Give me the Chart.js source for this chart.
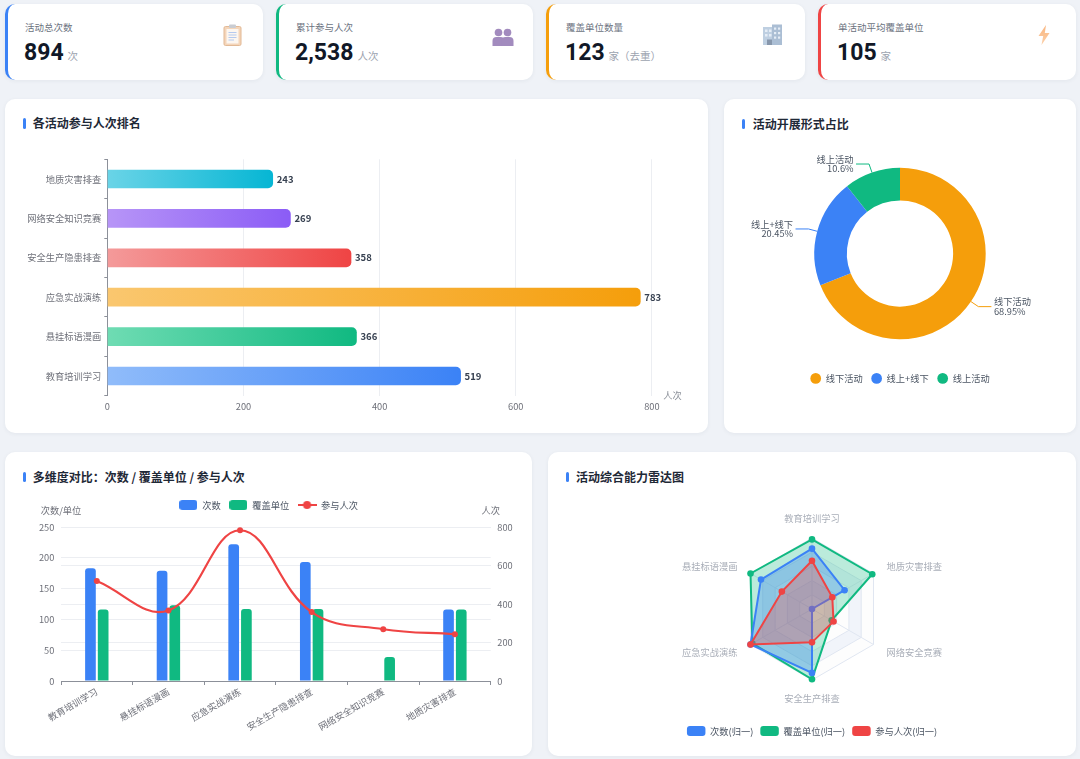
<!DOCTYPE html>
<html lang="zh-CN">
<head>
<meta charset="utf-8">
<title>活动数据看板</title>
<script src="https://cdn.jsdelivr.net/npm/chart.js@4.4.1/dist/chart.umd.min.js"></script>
<style>
html,body{margin:0;padding:0;}
body{width:1080px;height:759px;background:#eff2f7;position:relative;overflow:hidden;font-family:"Noto Sans CJK SC","Noto Sans",sans-serif;}
.card{position:absolute;background:#fff;border-radius:10px;box-shadow:0 1px 4px rgba(30,45,70,0.06);}
.kpi{position:absolute;background:#fff;border-radius:10px;border-left:3px solid #3b82f6;box-sizing:border-box;box-shadow:0 1px 4px rgba(30,45,70,0.06);}
.kt{position:absolute;left:17px;top:16.7px;font-size:9.5px;line-height:12px;color:#6b7280;white-space:nowrap;}
.kv{position:absolute;left:16px;top:37.2px;height:23px;line-height:23px;font-family:Roboto,"Noto Sans",sans-serif;font-size:23px;font-weight:700;color:#111827;white-space:nowrap;}
.kv .u{font-family:"Noto Sans CJK SC","Noto Sans",sans-serif;font-size:10.5px;font-weight:400;color:#9ca3af;margin-left:4px;line-height:10px;}
.ico{position:absolute;}
.ttl{position:absolute;font-size:12px;line-height:16px;font-weight:700;color:#1f2937;white-space:nowrap;}
.bar{position:absolute;width:3px;height:10.5px;background:#3b82f6;border-radius:2px;}
.box{position:absolute;}
</style>
</head>
<body>

<div class="kpi" id="k0" style="left:5px;top:4px;width:258px;height:76px;border-left-color:#3b82f6">
  <div class="kt"></div><div class="kv"><span class="n"></span><span class="u"></span></div>
  <svg class="ico" style="left:214.7px;top:20px;opacity:.75" width="19" height="22" viewBox="0 0 19 22">
    <rect x="1" y="2.5" width="17" height="19" rx="1.5" fill="#f1c7a2" stroke="#d9a273" stroke-width="1"/>
    <rect x="3.5" y="5" width="12" height="14.5" fill="#fbf4ec"/>
    <rect x="6" y="0.5" width="7" height="3.6" rx="1" fill="#b7bbc4"/>
    <line x1="5.5" y1="8.5" x2="13.5" y2="8.5" stroke="#9cb8ea" stroke-width="1"/>
    <line x1="5.5" y1="11" x2="13.5" y2="11" stroke="#9cb8ea" stroke-width="1"/>
    <line x1="5.5" y1="13.5" x2="13.5" y2="13.5" stroke="#9cb8ea" stroke-width="1"/>
    <line x1="5.5" y1="16" x2="11" y2="16" stroke="#9cb8ea" stroke-width="1"/>
  </svg>
</div>
<div class="kpi" id="k1" style="left:276px;top:4px;width:257px;height:76px;border-left-color:#10b981">
  <div class="kt"></div><div class="kv"><span class="n"></span><span class="u"></span></div>
  <svg class="ico" style="left:212.7px;top:24px;opacity:.8" width="22" height="18" viewBox="0 0 22 18">
    <circle cx="6.5" cy="4.5" r="3.8" fill="#8b6faf"/>
    <circle cx="15.5" cy="4.5" r="3.8" fill="#8b6faf"/>
    <path d="M0.5 18 V13 Q0.5 9 4.5 9 H8.5 Q12.5 9 12.5 13 V18 Z" fill="#8b6faf"/>
    <path d="M9.5 18 V13 Q9.5 9 13.5 9 H17.5 Q21.5 9 21.5 13 V18 Z" fill="#8b6faf"/>
  </svg>
</div>
<div class="kpi" id="k2" style="left:546px;top:4px;width:259px;height:76px;border-left-color:#f59e0b">
  <div class="kt"></div><div class="kv"><span class="n"></span><span class="u"></span></div>
  <svg class="ico" style="left:213px;top:20px;opacity:.75" width="21" height="21" viewBox="0 0 21 21">
    <rect x="1" y="3" width="13" height="18" fill="#a9bfd8"/>
    <rect x="10" y="0.5" width="10" height="20.5" fill="#8fa9c6"/>
    <rect x="3" y="5.5" width="2.5" height="2.5" fill="#dde8f4"/><rect x="7" y="5.5" width="2.5" height="2.5" fill="#dde8f4"/>
    <rect x="3" y="10" width="2.5" height="2.5" fill="#dde8f4"/><rect x="7" y="10" width="2.5" height="2.5" fill="#dde8f4"/>
    <rect x="12" y="3.5" width="2.2" height="2.2" fill="#dde8f4"/><rect x="16" y="3.5" width="2.2" height="2.2" fill="#dde8f4"/>
    <rect x="12" y="8" width="2.2" height="2.2" fill="#dde8f4"/><rect x="16" y="8" width="2.2" height="2.2" fill="#dde8f4"/>
    <rect x="12" y="12.5" width="2.2" height="2.2" fill="#dde8f4"/><rect x="16" y="12.5" width="2.2" height="2.2" fill="#dde8f4"/>
    <rect x="5" y="15.5" width="5" height="5.5" fill="#5f7591"/>
  </svg>
</div>
<div class="kpi" id="k3" style="left:818px;top:4px;width:258px;height:76px;border-left-color:#ef4444">
  <div class="kt"></div><div class="kv"><span class="n"></span><span class="u"></span></div>
  <svg class="ico" style="left:216.6px;top:21px;opacity:.8" width="12" height="20" viewBox="0 0 12 20">
    <defs><linearGradient id="lg" x1="0" y1="0" x2="0" y2="1"><stop offset="0" stop-color="#f7a35f"/><stop offset="1" stop-color="#fcc594"/></linearGradient></defs>
    <path d="M8 0 L0.5 11 L5.2 11 L3.5 20 L11.5 8 L6.8 8 Z" fill="url(#lg)"/>
  </svg>
</div>

<div class="card" style="left:5px;top:99px;width:703px;height:334px"></div>
<div class="card" style="left:724px;top:99px;width:352px;height:334px"></div>
<div class="card" style="left:5px;top:452px;width:527px;height:304px"></div>
<div class="card" style="left:548px;top:452px;width:528px;height:304px"></div>

<div class="bar" style="left:23.3px;top:118.2px"></div><div class="ttl" style="left:32.7px;top:115.3px">各活动参与人次排名</div>
<div class="bar" style="left:741.7px;top:118.8px"></div><div class="ttl" style="left:752.7px;top:116px">活动开展形式占比</div>
<div class="bar" style="left:23.4px;top:471.5px"></div><div class="ttl" style="left:32.7px;top:468.7px">多维度对比：次数 / 覆盖单位 / 参与人次</div>
<div class="bar" style="left:566.3px;top:471.5px"></div><div class="ttl" style="left:576px;top:468.7px">活动综合能力雷达图</div>

<div class="box" style="left:5px;top:140px;width:703px;height:290px"><canvas id="c1"></canvas></div>
<div class="box" style="left:724px;top:140px;width:352px;height:270px"><canvas id="c2"></canvas></div>
<div class="box" style="left:5px;top:490px;width:527px;height:266px"><canvas id="c3"></canvas></div>
<div class="box" style="left:548px;top:490px;width:528px;height:266px"><canvas id="c4"></canvas></div>

<script>
// ---------- data ----------
const kpiTitles = ['活动总次数', '累计参与人次', '覆盖单位数量', '单活动平均覆盖单位'];
const kpiValues = ['894', '2,538', '123', '105'];
const kpiUnits = ['次', '人次', '家（去重）', '家'];

const rankCategories = ['地质灾害排查', '网络安全知识竞赛', '安全生产隐患排查', '应急实战演练', '悬挂标语漫画', '教育培训学习'];
const rankValues = [243, 269, 358, 783, 366, 519];
const rankTicks = [0, 200, 400, 600, 800];
const rankAxisName = '人次';

const formLabels = ['线下活动', '线上+线下', '线上活动'];
const formShares = [68.95, 20.45, 10.6];

const activityCategories = ['教育培训学习', '悬挂标语漫画', '应急实战演练', '安全生产隐患排查', '网络安全知识竞赛', '地质灾害排查'];
const activityCounts = [183, 179, 222, 193, 1, 116];
const coveredUnits = [116, 123, 117, 117, 39, 116];
const participants = [519, 366, 783, 358, 269, 243];
const comboSeriesNames = ['次数', '覆盖单位', '参与人次'];
const leftAxisName = '次数/单位';
const rightAxisName = '人次';

const radarAxes = ['教育培训学习', '地质灾害排查', '网络安全竞赛', '安全生产排查', '应急实战演练', '悬挂标语漫画'];
const radarCounts = [0.85, 0.53, 0.0, 0.9, 1.0, 0.83];
const radarUnits = [0.98, 0.98, 0.32, 0.99, 0.97, 1.0];
const radarParticipants = [0.68, 0.33, 0.35, 0.47, 1.0, 0.49];
const radarSeriesNames = ['次数(归一)', '覆盖单位(归一)', '参与人次(归一)'];

// ---------- KPI text ----------
kpiTitles.forEach((t, i) => {
  const el = document.getElementById('k' + i);
  el.querySelector('.kt').textContent = t;
  el.querySelector('.n').textContent = kpiValues[i];
  el.querySelector('.u').textContent = kpiUnits[i];
});

// ---------- styles ----------
const FONT = '"Noto Sans CJK SC","Noto Sans",sans-serif';
Chart.defaults.font.family = FONT;
Chart.defaults.font.size = 9.25;
Chart.defaults.color = '#6e7079';
Chart.defaults.animation = false;
const AXIS = '#8c9099';
const GRID = '#eceef2';
const BLUE = '#3b82f6', GREEN = '#10b981', RED = '#ef4444', AMBER = '#f59e0b';
const barStops = [
  ['#6ad4e7', '#06b6d4'],
  ['#b795f7', '#8b5cf6'],
  ['#f49a9a', '#ef4444'],
  ['#fac76f', '#f59e0b'],
  ['#6fdcb3', '#10b981'],
  ['#90bcfa', '#3b82f6']
];
const formColors = [AMBER, BLUE, GREEN];

// ---------- chart 1: horizontal ranking ----------
const barLabels = {
  id: 'barLabels',
  afterDatasetsDraw(chart) {
    const ctx = chart.ctx, meta = chart.getDatasetMeta(0), area = chart.chartArea;
    ctx.save();
    ctx.font = 'bold 9.5px ' + FONT;
    ctx.fillStyle = '#374151';
    ctx.textAlign = 'left';
    ctx.textBaseline = 'middle';
    meta.data.forEach((bar, i) => ctx.fillText(String(rankValues[i]), bar.x + 4, bar.y));
    ctx.font = '9.25px ' + FONT;
    ctx.fillStyle = '#8a8f98';
    ctx.fillText(rankAxisName, area.right + 11.4, area.bottom);
    ctx.restore();
  }
};
new Chart(document.getElementById('c1'), {
  type: 'bar',
  data: {
    labels: rankCategories,
    datasets: [{
      data: rankValues,
      barThickness: 18,
      borderRadius: 5,
      borderSkipped: 'start',
      backgroundColor(c) {
        const chart = c.chart, i = c.dataIndex;
        if (!chart.chartArea || c.type !== 'data') return barStops[i][1];
        const x0 = chart.scales.x.getPixelForValue(0);
        const x1 = chart.scales.x.getPixelForValue(c.raw);
        const g = chart.ctx.createLinearGradient(x0, 0, Math.max(x1, x0 + 1), 0);
        g.addColorStop(0, barStops[i][0]);
        g.addColorStop(1, barStops[i][1]);
        return g;
      }
    }]
  },
  options: {
    indexAxis: 'y',
    responsive: true,
    maintainAspectRatio: false,
    layout: { padding: { top: 19.3, right: 56.1, left: 0, bottom: 0 } },
    plugins: { legend: { display: false }, tooltip: { enabled: false } },
    scales: {
      x: {
        min: rankTicks[0], max: rankTicks[rankTicks.length - 1],
        afterBuildTicks(s) { s.ticks = rankTicks.map(v => ({ value: v })); },
        ticks: { padding: 5, color: '#6e7079' },
        grid: { color: GRID, drawTicks: false },
        border: { display: false },
        afterFit(s) { s.height = 34.3; }
      },
      y: {
        grid: { offset: true, drawOnChartArea: false, tickLength: 3, color: AXIS },
        border: { color: AXIS },
        ticks: { padding: 3, color: '#6e7079' },
        afterFit(s) { s.width = 102.3; }
      }
    }
  },
  plugins: [barLabels]
});

// ---------- chart 2: doughnut ----------
const donutLabels = {
  id: 'donutLabels',
  afterDatasetsDraw(chart) {
    const ctx = chart.ctx, meta = chart.getDatasetMeta(0);
    ctx.save();
    ctx.font = '9.25px ' + FONT;
    ctx.textBaseline = 'middle';
    meta.data.forEach((arc, i) => {
      const p = arc.getProps(['x', 'y', 'startAngle', 'endAngle', 'outerRadius'], true);
      const a = (p.startAngle + p.endAngle) / 2, cos = Math.cos(a), sin = Math.sin(a);
      const x0 = p.x + cos * p.outerRadius, y0 = p.y + sin * p.outerRadius;
      const x1 = p.x + cos * (p.outerRadius + 9), y1 = p.y + sin * (p.outerRadius + 9);
      const dir = cos >= 0 ? 1 : -1;
      const x2 = x1 + dir * 13;
      ctx.strokeStyle = formColors[i];
      ctx.lineWidth = 1;
      ctx.beginPath(); ctx.moveTo(x0, y0); ctx.lineTo(x1, y1); ctx.lineTo(x2, y1); ctx.stroke();
      ctx.fillStyle = '#4b5563';
      ctx.textAlign = dir > 0 ? 'left' : 'right';
      ctx.fillText(formLabels[i], x2 + dir * 2.5, y1 - 4.7);
      ctx.fillText(formShares[i] + '%', x2 + dir * 2.5, y1 + 4.7);
    });
    ctx.restore();
  }
};
new Chart(document.getElementById('c2'), {
  type: 'doughnut',
  data: {
    labels: formLabels,
    datasets: [{ data: formShares, backgroundColor: formColors, borderWidth: 0 }]
  },
  options: {
    responsive: true,
    maintainAspectRatio: false,
    radius: 85.7,
    cutout: '62%',
    layout: { padding: { top: 1.9, bottom: 17, left: 0, right: 0 } },
    plugins: {
      tooltip: { enabled: false },
      legend: {
        position: 'bottom',
        labels: {
          usePointStyle: true, pointStyle: 'circle', pointStyleWidth: 10.7, boxHeight: 7.57,
          padding: 8.6, color: '#4b5563', font: { size: 9.25 }
        }
      }
    }
  },
  plugins: [donutLabels]
});

// ---------- chart 3: combo ----------
function rectIcon(color) {
  const c = document.createElement('canvas'); c.width = 18; c.height = 10;
  const x = c.getContext('2d'); x.fillStyle = color;
  x.beginPath(); x.moveTo(3, 0); x.lineTo(15, 0); x.quadraticCurveTo(18, 0, 18, 3); x.lineTo(18, 7);
  x.quadraticCurveTo(18, 10, 15, 10); x.lineTo(3, 10); x.quadraticCurveTo(0, 10, 0, 7); x.lineTo(0, 3);
  x.quadraticCurveTo(0, 0, 3, 0); x.fill();
  return c;
}
function lineIcon(color) {
  const c = document.createElement('canvas'); c.width = 19; c.height = 10;
  const x = c.getContext('2d'); x.strokeStyle = color; x.fillStyle = color; x.lineWidth = 2;
  x.beginPath(); x.moveTo(0, 5); x.lineTo(19, 5); x.stroke();
  x.beginPath(); x.arc(9.5, 5, 4, 0, Math.PI * 2); x.fill();
  return c;
}
const comboIcons = [rectIcon(BLUE), rectIcon(GREEN), lineIcon(RED)];
const axisNames = {
  id: 'axisNames',
  afterDraw(chart) {
    const ctx = chart.ctx, a = chart.chartArea;
    ctx.save();
    ctx.font = '9.25px ' + FONT;
    ctx.fillStyle = '#6e7079';
    ctx.textAlign = 'center';
    ctx.textBaseline = 'middle';
    ctx.fillText(leftAxisName, a.left, a.top - 16.5);
    ctx.fillText(rightAxisName, a.right, a.top - 17);
    ctx.restore();
  }
};
new Chart(document.getElementById('c3'), {
  type: 'bar',
  data: {
    labels: activityCategories,
    datasets: [
      { type: 'bar', label: comboSeriesNames[0], data: activityCounts, backgroundColor: BLUE, borderRadius: 3, yAxisID: 'y', order: 1, categoryPercentage: 0.355, barPercentage: 0.84 },
      { type: 'bar', label: comboSeriesNames[1], data: coveredUnits, backgroundColor: GREEN, borderRadius: 3, yAxisID: 'y', order: 1, categoryPercentage: 0.355, barPercentage: 0.84 },
      { type: 'line', label: comboSeriesNames[2], data: participants, borderColor: RED, backgroundColor: RED, borderWidth: 2.2, tension: 0.4, pointRadius: 3, pointBackgroundColor: RED, pointBorderWidth: 0, yAxisID: 'y1', order: 0 }
    ]
  },
  options: {
    responsive: true,
    maintainAspectRatio: false,
    layout: { padding: { top: 1.875, left: 0, right: 0, bottom: 0 } },
    plugins: {
      tooltip: { enabled: false },
      legend: {
        position: 'top',
        labels: {
          usePointStyle: true, pointStyleWidth: 18.5, padding: 8.5, font: { size: 9.25 },
          generateLabels(chart) {
            return chart.data.datasets.map((ds, i) => ({
              text: ds.label, pointStyle: comboIcons[i], fillStyle: ds.backgroundColor,
              strokeStyle: ds.backgroundColor, lineWidth: 0, hidden: !chart.isDatasetVisible(i),
              datasetIndex: i, fontColor: '#4b5563'
            }));
          }
        }
      },
      subtitle: { display: true, text: '', position: 'top', weight: 100, padding: 0, font: { size: 7.375, lineHeight: 1 } }
    },
    scales: {
      x: {
        grid: { offset: true, drawOnChartArea: false, tickLength: 4, color: AXIS },
        border: { color: AXIS },
        ticks: { maxRotation: 30, minRotation: 30, autoSkip: false, padding: 1, color: '#6e7079' },
        afterFit(s) { s.height = 75; }
      },
      y: {
        position: 'left', min: 0, max: 250,
        ticks: { stepSize: 50, padding: 6.7, color: '#6e7079' },
        grid: { color: GRID, drawTicks: false },
        border: { display: false },
        afterFit(s) { s.width = 56; }
      },
      y1: {
        position: 'right', min: 0, max: 800,
        ticks: { stepSize: 200, padding: 6.6, color: '#6e7079' },
        grid: { color: GRID, drawTicks: false },
        border: { display: false },
        afterFit(s) { s.width = 41.3; }
      }
    }
  },
  plugins: [axisNames]
});

// ---------- chart 4: radar ----------
const radarBands = {
  id: 'radarBands',
  beforeDraw(chart) {
    const s = chart.scales.r, n = chart.data.labels.length, ctx = chart.ctx;
    ctx.save();
    for (let k = 5; k >= 1; k--) {
      ctx.beginPath();
      [k / 5, (k - 1) / 5].forEach(v => {
        if (v <= 0) return;
        for (let i = 0; i < n; i++) {
          const p = s.getPointPositionForValue(i, v);
          if (i === 0) ctx.moveTo(p.x, p.y); else ctx.lineTo(p.x, p.y);
        }
        ctx.closePath();
      });
      ctx.fillStyle = (k - 1) % 2 === 0 ? 'rgba(250,250,250,0.3)' : 'rgba(210,219,238,0.3)';
      ctx.fill('evenodd');
    }
    ctx.restore();
  },
  afterDraw(chart) {
    const s = chart.scales.r, ctx = chart.ctx, labels = chart.data.labels, R = s.drawingArea;
    ctx.save();
    ctx.font = '9.25px ' + FONT;
    ctx.fillStyle = '#a9aeb8';
    ctx.textBaseline = 'middle';
    labels.forEach((t, i) => {
      const dir = s.getPointPosition(i, 1);
      const dx = dir.x - s.xCenter;
      if (Math.abs(dx) < 0.05) {
        const up = dir.y < s.yCenter;
        const p = s.getPointPosition(i, R + (up ? 19.7 : 18.3));
        ctx.textAlign = 'center';
        ctx.fillText(t, p.x, p.y);
      } else {
        const p = s.getPointPosition(i, R + 15);
        ctx.textAlign = dx > 0 ? 'left' : 'right';
        ctx.fillText(t, p.x, p.y);
      }
    });
    ctx.restore();
  }
};
new Chart(document.getElementById('c4'), {
  type: 'radar',
  data: {
    labels: radarAxes,
    datasets: [
      { label: radarSeriesNames[0], data: radarCounts, borderColor: BLUE, backgroundColor: 'rgba(59,130,246,0.32)', pointBackgroundColor: BLUE, fill: true, order: 1 },
      { label: radarSeriesNames[1], data: radarUnits, borderColor: GREEN, backgroundColor: 'rgba(16,185,129,0.28)', pointBackgroundColor: GREEN, fill: true, order: 2 },
      { label: radarSeriesNames[2], data: radarParticipants, borderColor: RED, backgroundColor: 'rgba(239,68,68,0.3)', pointBackgroundColor: RED, fill: true, order: 0 }
    ]
  },
  options: {
    responsive: true,
    maintainAspectRatio: false,
    layout: { padding: { top: 48, bottom: 10, left: 0, right: 0 } },
    elements: { line: { borderWidth: 2, tension: 0 }, point: { radius: 3.3, borderWidth: 0 } },
    plugins: {
      tooltip: { enabled: false },
      legend: {
        position: 'bottom',
        labels: {
          boxWidth: 18.5, boxHeight: 10, useBorderRadius: true, borderRadius: 3, padding: 7, font: { size: 9.25 },
          generateLabels(chart) {
            return chart.data.datasets.map((ds, i) => ({
              text: ds.label, fillStyle: ds.borderColor, strokeStyle: ds.borderColor, lineWidth: 0,
              hidden: !chart.isDatasetVisible(i), datasetIndex: i, borderRadius: 3, fontColor: '#4b5563'
            }));
          }
        }
      },
      subtitle: { display: true, text: '', position: 'bottom', weight: 100, padding: 0, font: { size: 39, lineHeight: 1 } }
    },
    scales: {
      r: {
        min: 0, max: 1,
        ticks: { display: false, stepSize: 0.2 },
        grid: { color: '#e0e6f1' },
        angleLines: { color: '#e0e6f1' },
        pointLabels: { display: false }
      }
    }
  },
  plugins: [radarBands]
});
</script>
</body>
</html>
